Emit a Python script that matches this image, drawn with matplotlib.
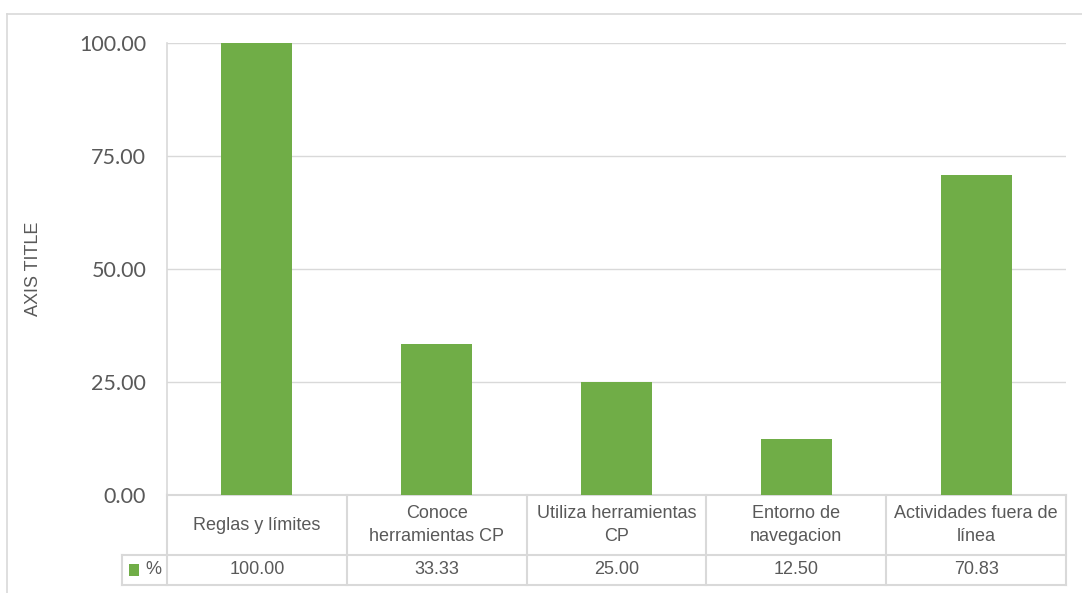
import matplotlib.pyplot as plt
from matplotlib.lines import Line2D
from matplotlib.patches import Rectangle

categories = [
    "Reglas y límites",
    "Conoce\nherramientas CP",
    "Utiliza herramientas\nCP",
    "Entorno de\nnavegacion",
    "Actividades fuera de\nlínea",
]
values = [100.00, 33.33, 25.00, 12.50, 70.83]
series_name = "%"
y_ticks = [0, 25, 50, 75, 100]

BAR_COLOR = "#70AD47"
TEXT_COLOR = "#595959"
GRID_COLOR = "#D9D9D9"
TICK_FONT = ["Lato", "DejaVu Sans"]
TABLE_FONT = ["Liberation Sans Narrow", "Liberation Sans", "DejaVu Sans"]

W, H = 1082, 593
fig = plt.figure(figsize=(W / 100, H / 100), dpi=100)

# plot area in pixels
left, right, top, bottom = 167, 1066, 43, 495
ax = fig.add_axes([left / W, 1 - bottom / H, (right - left) / W, (bottom - top) / H])

x = list(range(len(categories)))
ax.bar(x, values, width=0.395, color=BAR_COLOR, zorder=3)
ax.set_xlim(-0.5, len(categories) - 0.5)
ax.set_ylim(0, 100)
ax.set_yticks(y_ticks)
ax.set_yticklabels([f"{v:.2f}" for v in y_ticks], fontsize=15.5, color=TEXT_COLOR, family=TICK_FONT)
ax.tick_params(axis="y", length=0, pad=15)
ax.set_xticks([])
ax.grid(axis="y", color=GRID_COLOR, linewidth=1, zorder=0)
for side in ["top", "right", "bottom"]:
    ax.spines[side].set_visible(False)
ax.spines["left"].set_color(GRID_COLOR)
ax.spines["left"].set_linewidth(1.2)
ax.set_ylabel("AXIS TITLE", fontsize=13, color=TEXT_COLOR, family=TABLE_FONT)
ax.yaxis.set_label_coords((42 - left) / (right - left), 0.5)

# data table under the axis (x in data units, y in axes fraction)
trans = ax.get_xaxis_transform()
plot_h = bottom - top
row1 = 0.0
row2 = -(555 - bottom) / plot_h
row3 = -(585 - bottom) / plot_h
legend_left = -0.5 - (left - 122) / ((right - left) / len(categories))
n = len(categories)

line_kw = dict(color=GRID_COLOR, linewidth=1.5, transform=trans, clip_on=False)
ax.add_line(Line2D([-0.5, n - 0.5], [row1, row1], **line_kw))
ax.add_line(Line2D([legend_left, n - 0.5], [row2, row2], **line_kw))
ax.add_line(Line2D([legend_left, n - 0.5], [row3, row3], **line_kw))
ax.add_line(Line2D([legend_left, legend_left], [row2, row3], **line_kw))
for i in range(n + 1):
    xb = i - 0.5
    ax.add_line(Line2D([xb, xb], [row1, row3], **line_kw))

for i, (cat, val) in enumerate(zip(categories, values)):
    ax.text(i, (row1 + row2) / 2, cat, transform=trans, ha="center", va="center",
            fontsize=13, color=TEXT_COLOR, family=TABLE_FONT, linespacing=1.45)
    ax.text(i, (row2 + row3) / 2, f"{val:.2f}", transform=trans, ha="center", va="center",
            fontsize=13, color=TEXT_COLOR, family=TABLE_FONT)

# legend key in the table
key_w = 0.055
key_h = 12 / plot_h
ax.add_patch(Rectangle((legend_left + 0.04, (row2 + row3) / 2 - key_h / 2), key_w, key_h,
                       facecolor=BAR_COLOR, edgecolor="none", transform=trans, clip_on=False))
ax.text(legend_left + 0.13, (row2 + row3) / 2, series_name, transform=trans, ha="left",
        va="center", fontsize=13, color=TEXT_COLOR, family=TABLE_FONT)

# outer chart border
fig.add_artist(Line2D([7 / W, 1.0], [1 - 14 / H, 1 - 14 / H], color=GRID_COLOR, linewidth=1.2))
fig.add_artist(Line2D([7 / W, 7 / W], [0.0, 1 - 14 / H], color=GRID_COLOR, linewidth=1.2))

fig.savefig("out.png", dpi=100)
